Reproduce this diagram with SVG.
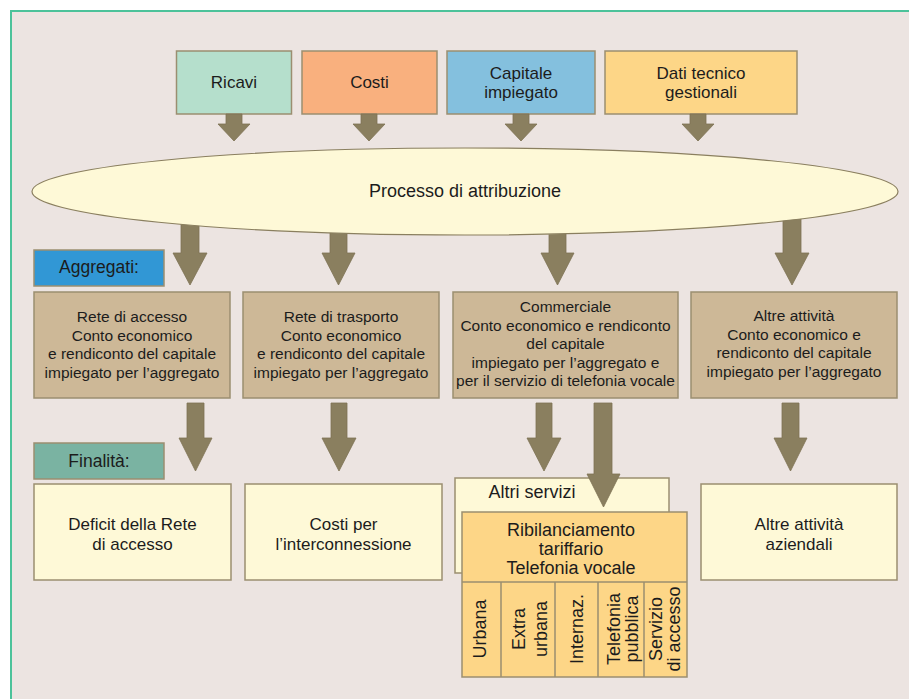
<svg xmlns="http://www.w3.org/2000/svg" width="909" height="699" viewBox="0 0 909 699">
  <style>
    text { font-family: "Liberation Sans", Arial, sans-serif; fill: #1c1c1c; text-anchor: middle; }
    .box { stroke: #9b8e70; stroke-width: 1.5; }
    .agg { fill: #cdb897; }
    .fin { fill: #fef9d7; }
    .t17 { font-size: 17px; }
    .t155 { font-size: 15.5px; }
    .t18 { font-size: 18px; }
    .arrow { fill: #8a7f5f; stroke: #7d7254; stroke-width: 0.8; }
    .div { stroke: #9b8e70; stroke-width: 1.5; fill: none; }
  </style>

  <!-- panel background and frame -->
  <rect x="11" y="11" width="898" height="688" fill="#ece4e1"/>
  <line x1="11" y1="11" x2="909" y2="11" stroke="#4cc29a" stroke-width="2"/>
  <line x1="11" y1="10" x2="11" y2="699" stroke="#4cc29a" stroke-width="2"/>

  <!-- input sources -->
  <g id="ricavi">
    <rect class="box" x="176.5" y="51" width="115" height="63" fill="#b5dfcc"/>
    <text class="t17" x="234" y="88">Ricavi</text>
  </g>
  <g id="costi">
    <rect class="box" x="302" y="51" width="135" height="63" fill="#f9b07e"/>
    <text class="t17" x="369.5" y="88">Costi</text>
  </g>
  <g id="capitale">
    <rect class="box" x="447" y="51" width="148" height="63" fill="#84c0de"/>
    <text class="t17" x="521" y="79">Capitale</text>
    <text class="t17" x="521" y="98">impiegato</text>
  </g>
  <g id="dati">
    <rect class="box" x="605" y="51" width="192" height="63" fill="#fdd687"/>
    <text class="t17" x="701" y="79">Dati tecnico</text>
    <text class="t17" x="701" y="98">gestionali</text>
  </g>

  <!-- section labels -->
  <g id="label-aggregati">
    <rect class="box" x="34" y="250" width="130" height="36" fill="#3197d5"/>
    <text x="99" y="273" style="font-size:17.5px">Aggregati:</text>
  </g>
  <g id="label-finalita">
    <rect class="box" x="34" y="443" width="130" height="36" fill="#7ab3a2"/>
    <text x="99" y="467" style="font-size:17.5px">Finalità:</text>
  </g>

  <!-- aggregates -->
  <g id="agg-accesso">
    <rect class="box agg" x="34" y="292" width="196" height="106"/>
    <text class="t155" x="132" y="322">Rete di accesso</text>
    <text class="t155" x="132" y="340.5">Conto economico</text>
    <text class="t155" x="132" y="359">e rendiconto del capitale</text>
    <text class="t155" x="132" y="377.5">impiegato per l’aggregato</text>
  </g>
  <g id="agg-trasporto">
    <rect class="box agg" x="243" y="292" width="196" height="106"/>
    <text class="t155" x="341" y="322">Rete di trasporto</text>
    <text class="t155" x="341" y="340.5">Conto economico</text>
    <text class="t155" x="341" y="359">e rendiconto del capitale</text>
    <text class="t155" x="341" y="377.5">impiegato per l’aggregato</text>
  </g>
  <g id="agg-commerciale">
    <rect class="box agg" x="453" y="292" width="225" height="106"/>
    <text class="t155" x="565.5" y="312">Commerciale</text>
    <text class="t155" x="565.5" y="330.5">Conto economico e rendiconto</text>
    <text class="t155" x="565.5" y="349">del capitale</text>
    <text class="t155" x="565.5" y="367.5">impiegato per l’aggregato e</text>
    <text class="t155" x="565.5" y="386">per il servizio di telefonia vocale</text>
  </g>
  <g id="agg-altre">
    <rect class="box agg" x="691" y="292" width="206" height="106"/>
    <text class="t155" x="794" y="321">Altre attività</text>
    <text class="t155" x="794" y="339.5">Conto economico e</text>
    <text class="t155" x="794" y="358">rendiconto del capitale</text>
    <text class="t155" x="794" y="376.5">impiegato per l’aggregato</text>
  </g>

  <!-- purposes -->
  <g id="fin-deficit">
    <rect class="box fin" x="34" y="484" width="197" height="96"/>
    <text class="t17" x="132.5" y="530">Deficit della Rete</text>
    <text class="t17" x="132.5" y="550">di accesso</text>
  </g>
  <g id="fin-interconnessione">
    <rect class="box fin" x="245" y="484" width="197" height="96"/>
    <text class="t17" x="343.5" y="530">Costi per</text>
    <text class="t17" x="343.5" y="550">l’interconnessione</text>
  </g>
  <g id="fin-altri-servizi">
    <rect class="box fin" x="455" y="478" width="214" height="95"/>
    <text class="t18" x="532" y="498">Altri servizi</text>
  </g>
  <g id="fin-altre-attivita">
    <rect class="box fin" x="701" y="484" width="196" height="96"/>
    <text class="t17" x="799" y="530">Altre attività</text>
    <text class="t17" x="799" y="550">aziendali</text>
  </g>

  <!-- connectors -->
  <g id="connectors">
    <!-- sources into the attribution process -->
    <polygon class="arrow" points="226,114 242,114 242,124 250,124 234,141 218,124 226,124"/>
    <polygon class="arrow" points="361,114 377,114 377,124 385,124 369,141 353,124 361,124"/>
    <polygon class="arrow" points="513,114 529,114 529,124 537,124 521,141 505,124 513,124"/>
    <polygon class="arrow" points="690,114 706,114 706,124 714,124 698,141 682,124 690,124"/>
    <!-- attribution process into the aggregates -->
    <polygon class="arrow" points="181,220 199,220 199,253 207,253 190,285 173,253 181,253"/>
    <polygon class="arrow" points="330,220 347,220 347,253 355,253 338.5,285 322,253 330,253"/>
    <polygon class="arrow" points="549,220 566,220 566,253 574,253 557.5,285 541,253 549,253"/>
    <polygon class="arrow" points="783,215 801,215 801,253 809,253 792,285 775,253 783,253"/>
    <!-- aggregates into purposes -->
    <polygon class="arrow" points="187,403 204,403 204,438 212,438 195.5,471 179,438 187,438"/>
    <polygon class="arrow" points="331,403 347,403 347,438 356,438 339,471 322,438 331,438"/>
    <polygon class="arrow" points="536,403 552,403 552,438 561,438 544,471 527,438 536,438"/>
    <polygon class="arrow" points="594,403 612,403 612,474 620,474 603.5,507 587,474 594,474"/>
    <polygon class="arrow" points="782,403 799,403 799,438 807,438 790.5,471 774,438 782,438"/>
  </g>

  <!-- attribution process -->
  <g id="processo">
    <ellipse cx="465" cy="191.5" rx="433" ry="43.5" fill="#fef9d7" stroke="#8a7f5f" stroke-width="1.2"/>
    <text x="465" y="197" style="font-size:18px">Processo di attribuzione</text>
  </g>

  <!-- tariff rebalancing, voice telephony -->
  <g id="ribilanciamento">
    <rect class="box" x="462" y="512" width="225" height="165" fill="#fdd687"/>
    <text class="t18" x="571" y="535.5">Ribilanciamento</text>
    <text class="t18" x="571" y="555">tariffario</text>
    <text class="t18" x="571" y="574">Telefonia vocale</text>
    <path class="div" d="M462,582H687M501,582V677M555,582V677M598,582V677M644,582V677"/>
    <text class="t18" transform="rotate(-90 486 629)" x="486" y="629">Urbana</text>
    <text class="t18" transform="rotate(-90 525 629)" x="525" y="629">Extra</text>
    <text class="t18" transform="rotate(-90 547 629)" x="547" y="629">urbana</text>
    <text class="t18" transform="rotate(-90 583 629)" x="583" y="629">Internaz.</text>
    <text class="t18" transform="rotate(-90 620 629)" x="620" y="629">Telefonia</text>
    <text class="t18" transform="rotate(-90 638 629)" x="638" y="629">pubblica</text>
    <text class="t18" transform="rotate(-90 662 629)" x="662" y="629">Servizio</text>
    <text class="t18" transform="rotate(-90 680 629)" x="680" y="629">di accesso</text>
  </g>
</svg>
